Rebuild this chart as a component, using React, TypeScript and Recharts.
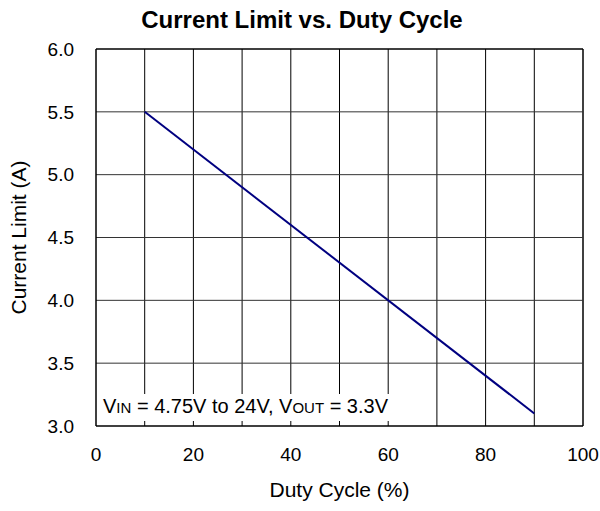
import React from "react";
import {
  LineChart,
  Line,
  XAxis,
  YAxis,
  ReferenceLine,
} from "recharts";

const dutyCycle = [10, 90];
const currentLimit = [5.5, 3.1];
const xTicks = [0, 20, 40, 60, 80, 100];
const yTicks = [3.0, 3.5, 4.0, 4.5, 5.0, 5.5, 6.0];
const xGrid = [10, 20, 30, 40, 50, 60, 70, 80, 90, 100];
const yGrid = [3.5, 4.0, 4.5, 5.0, 5.5, 6.0];

const FONT = "Liberation Sans, Arial, sans-serif";

const data = dutyCycle.map((d, i) => ({ duty: d, limit: currentLimit[i] }));

function YLabel(props: any) {
  const { viewBox } = props;
  const cx = 18;
  const cy = viewBox.y + viewBox.height / 2;
  return (
    <text
      x={cx}
      y={cy}
      transform={`rotate(-90 ${cx} ${cy})`}
      textAnchor="middle"
      dominantBaseline="central"
      fontSize={21}
      fontFamily={FONT}
      fill="#000"
    >
      Current Limit (A)
    </text>
  );
}

export default function App() {
  return (
    <div
      style={{
        position: "absolute",
        left: 0,
        top: 0,
        width: 600,
        height: 511,
        background: "#fff",
        fontFamily: FONT,
      }}
    >
      <div
        style={{
          position: "absolute",
          left: 0,
          width: 604,
          top: 6,
          textAlign: "center",
          fontWeight: "bold",
          fontSize: 24,
          color: "#000",
        }}
      >
        Current Limit vs. Duty Cycle
      </div>
      <LineChart
        width={600}
        height={511}
        data={data}
        margin={{ top: 49, right: 17, bottom: 0, left: 0 }}
      >
        <XAxis
          dataKey="duty"
          type="number"
          domain={[0, 100]}
          ticks={xTicks}
          tickSize={0}
          tickMargin={22}
          axisLine={{ stroke: "#000", strokeWidth: 1.5 }}
          height={85}
          tick={{ fill: "#000", fontSize: 19, fontFamily: FONT }}
          label={{
            value: "Duty Cycle (%)",
            position: "insideBottom",
            offset: 14,
            fill: "#000",
            fontSize: 21,
            fontFamily: FONT,
          }}
        />
        <YAxis
          type="number"
          domain={[3, 6]}
          ticks={yTicks}
          width={96}
          tickSize={0}
          tickMargin={22}
          tickFormatter={(v: number) => v.toFixed(1)}
          axisLine={{ stroke: "#000", strokeWidth: 1.5 }}
          tick={{ fill: "#000", fontSize: 19, fontFamily: FONT }}
          label={{ content: YLabel }}
        />
        {xGrid.map((x) => (
          <ReferenceLine
            key={"x" + x}
            x={x}
            stroke="#000"
            strokeWidth={x === 100 ? 1.5 : 1}
            ifOverflow="extendDomain"
          />
        ))}
        {yGrid.map((y) => (
          <ReferenceLine
            key={"y" + y}
            y={y}
            stroke={y === 6 ? "#000" : "#333"}
            strokeWidth={y === 6 ? 1.5 : 1}
          />
        ))}
        <Line
          type="linear"
          dataKey="limit"
          stroke="#000080"
          strokeWidth={2}
          dot={false}
          isAnimationActive={false}
        />
      </LineChart>
      <div
        style={{
          position: "absolute",
          left: 98,
          top: 394,
          height: 27,
          paddingLeft: 5,
          paddingRight: 4,
          fontSize: 20,
          color: "#000",
          whiteSpace: "nowrap",
          background: "#fff",
          lineHeight: "24px",
        }}
      >
        V<span style={{ fontSize: 15 }}>IN</span> = 4.75V to 24V, V
        <span style={{ fontSize: 15 }}>OUT</span> = 3.3V
      </div>
    </div>
  );
}
